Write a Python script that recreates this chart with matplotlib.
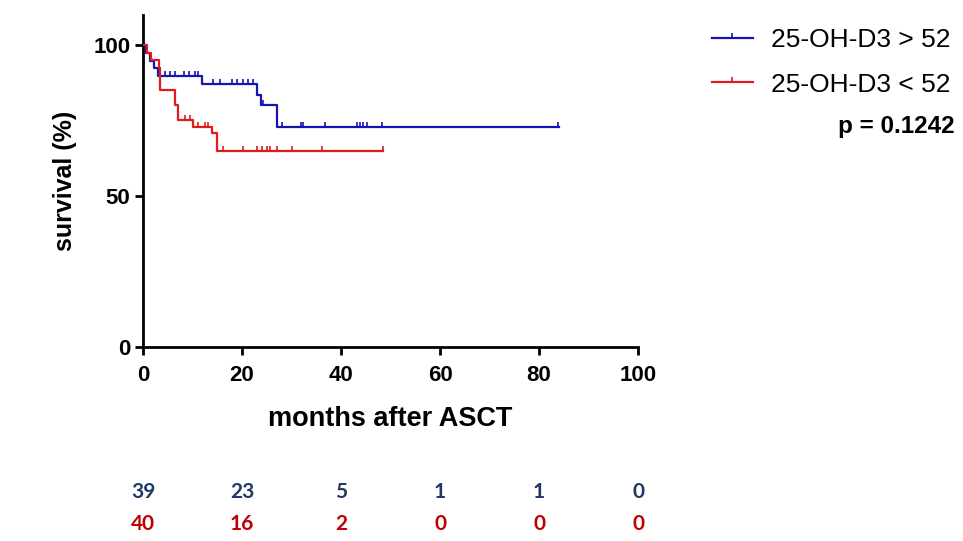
import numpy as np
import matplotlib
matplotlib.use("Agg")
import matplotlib.pyplot as plt
from matplotlib.lines import Line2D
from matplotlib import transforms

plt.rcParams['font.family'] = ['Liberation Sans', 'DejaVu Sans']

# Kaplan-Meier steps (months, survival %)
high_times = [0, 0.6, 1.5, 2.3, 3.1, 12.0, 23.1, 23.8, 27.0, 84.0]
high_surv = [100, 97.4, 94.9, 92.3, 89.7, 87.0, 83.5, 80.3, 72.8, 72.8]
high_censor = [4.4, 5.5, 6.5, 8.2, 9.2, 10.5, 11.2,
               14.2, 15.6, 17.9, 18.9, 20.2, 21.3, 22.3, 24.3,
               28.0, 32.0, 32.4, 36.8, 43.2, 43.8, 44.5, 45.2, 48.2, 83.9]

low_times = [0, 0.8, 1.6, 3.3, 3.4, 3.5, 6.4, 7.0, 10.2, 13.9, 14.9, 48.5]
low_surv = [100, 97.5, 95.0, 92.5, 87.5, 85.0, 80.2, 75.2, 72.9, 70.8, 65.0, 65.0]
low_censor = [8.5, 9.5, 11.2, 12.5, 13.2,
              16.2, 20.2, 23.0, 24.0, 25.0, 25.7, 27.0, 30.0, 36.1, 48.5]

risk_months = [0, 20, 40, 60, 80, 100]
risk_high = [39, 23, 5, 1, 1, 0]
risk_low = [40, 16, 2, 0, 0, 0]

labels = ["25-OH-D3 > 52", "25-OH-D3 < 52"]
p_text = "p = 0.1242"

blue = "#1414b4"
red = "#e01b1b"
navy = "#1f3864"
dark_red = "#c00000"


def surv_at(times, surv, t):
    idx = np.searchsorted(times, t, side="right") - 1
    return np.asarray(surv)[idx]


fig = plt.figure(figsize=(9.63, 5.41), dpi=100)
ax = fig.add_axes([143 / 963, 1 - 347 / 541, 495 / 963, 332 / 541])

for times, surv, cens, col in [(high_times, high_surv, high_censor, blue),
                               (low_times, low_surv, low_censor, red)]:
    ax.step(times, surv, where="post", color=col, lw=1.6, zorder=3)
    ax.plot(cens, surv_at(times, surv, cens), ls="none", marker=2,
            ms=3.5, mew=1.2, color=col, zorder=3)

ax.set_xlim(0, 100)
ax.set_ylim(0, 110)
ax.set_xticks([0, 20, 40, 60, 80, 100])
ax.set_yticks([0, 50, 100])
for s in ["top", "right"]:
    ax.spines[s].set_visible(False)
for s in ["left", "bottom"]:
    ax.spines[s].set_linewidth(2)
ax.tick_params(direction="out", length=6, width=2, labelsize=16)
ax.tick_params(axis="x", pad=7)
ax.tick_params(axis="y", pad=3)
for lab in ax.get_xticklabels() + ax.get_yticklabels():
    lab.set_fontweight("bold")
ax.set_xlabel("months after ASCT", fontsize=19.5, fontweight="bold", labelpad=14)
ax.set_ylabel("survival (%)", fontsize=18, fontweight="bold", labelpad=12)

handles = [Line2D([], [], color=blue, lw=1.6, marker=2, ms=3.5, mew=1.2),
           Line2D([], [], color=red, lw=1.6, marker=2, ms=3.5, mew=1.2)]
fig.legend(handles, labels, loc="upper left", bbox_to_anchor=(712 / 963, 1 - 28 / 541),
           frameon=False, fontsize=19, handlelength=1.55, numpoints=1,
           labelspacing=0.78, handletextpad=0.68, borderaxespad=0, borderpad=0)
fig.text(955 / 963, 1 - 126 / 541, p_text, ha="right", va="center",
         fontsize=17.5, fontweight="bold")

trans = transforms.blended_transform_factory(ax.transData, fig.transFigure)
for m, h, l in zip(risk_months, risk_high, risk_low):
    ax.text(m, 1 - 492 / 541, str(h), transform=trans, ha="center", va="center",
            fontsize=15, fontweight="bold", color=navy, family="Lato", clip_on=False)
    ax.text(m, 1 - 524 / 541, str(l), transform=trans, ha="center", va="center",
            fontsize=15, fontweight="bold", color=dark_red, family="Lato", clip_on=False)

fig.savefig("out.png", dpi=100)
